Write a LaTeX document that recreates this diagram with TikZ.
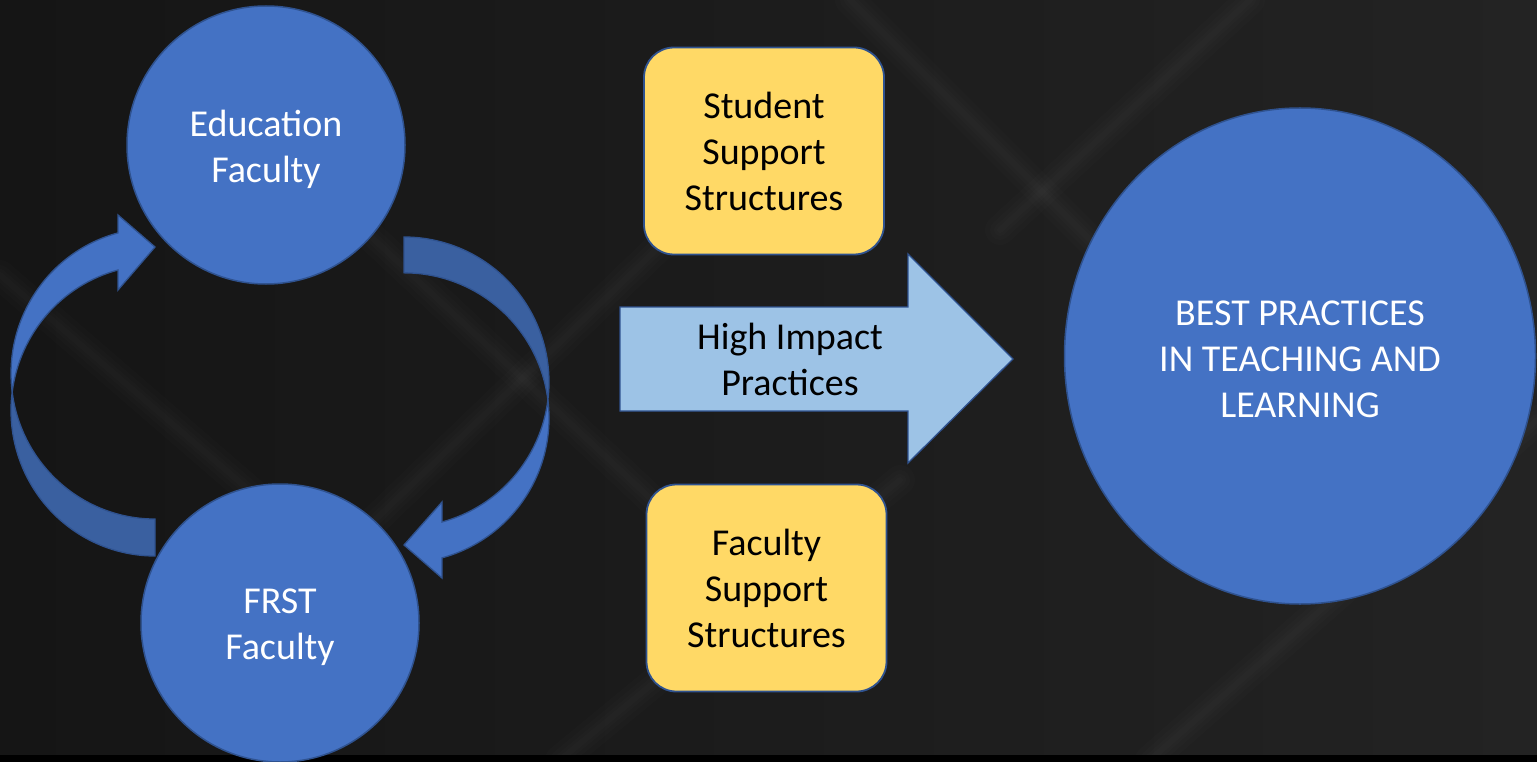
\documentclass[tikz,border=0pt]{standalone}
\usepackage{fontspec}
\setmainfont{Carlito}
\usetikzlibrary{shapes.geometric}
\definecolor{bgdark}{HTML}{151515}
\definecolor{bglight}{HTML}{232323}
\definecolor{accblue}{HTML}{4472C4}
\definecolor{edgeblue}{HTML}{2F528F}
\definecolor{darkband}{HTML}{3A60A0}
\definecolor{gold}{HTML}{FFD966}
\definecolor{lightblue}{HTML}{9DC3E6}
\begin{document}
\begin{tikzpicture}[x=1pt,y=-1pt,
  bigtext/.style={font=\fontsize{38}{46}\selectfont, align=center, inner sep=0pt},
  bluecirc/.style={circle, fill=accblue, draw=edgeblue, line width=1.5pt, minimum size=278pt, inner sep=0pt},
  whitetext/.style={bigtext, text=white},
  goldbox/.style={rectangle, rounded corners=30pt, fill=gold, draw=edgeblue, line width=1.8pt, text=black, minimum width=240pt, minimum height=207pt, bigtext},
  shapeline/.style={draw=edgeblue, line width=1.3pt, line join=miter},
  streak/.style={white, opacity=0.012, line cap=round}
]
\useasboundingbox (0,0) rectangle (1537,762);
% background
\shade[left color=bgdark, right color=bglight] (0,0) rectangle (1537,762);
\foreach \w in {6,12,20,30}{
  \draw[streak, line width=\w pt] (0,275) -- (330,560);
  \draw[streak, line width=\w pt] (300,170) -- (780,620);
  \draw[streak, line width=\w pt] (250,640) -- (760,150);
  \draw[streak, line width=\w pt] (850,0) -- (1150,300);
  \draw[streak, line width=\w pt] (1000,230) -- (1250,0);
  \draw[streak, line width=\w pt] (1150,760) -- (1537,420);
  \draw[streak, line width=\w pt] (560,760) -- (900,480);
}
\fill[black] (0,755) rectangle (1537,762);

% left curved arrow (FRST -> Education)
\path[fill=darkband, shapeline] (155,556)
  arc[start angle=90, end angle=187.3, x radius=144, y radius=145.5]
  arc[start angle=172.7, end angle=90, x radius=144, y radius=145.5] -- cycle;
\path[fill=accblue, shapeline] (12.2,392)
  arc[start angle=172.7, end angle=255.1, x radius=144, y radius=145.5]
  -- (118,215) -- (155,247) -- (118,290) -- (118,270)
  arc[start angle=255.1, end angle=187.3, x radius=144, y radius=145.5] -- cycle;

% right curved arrow (Education -> FRST)
\path[fill=darkband, shapeline] (404,237)
  arc[start angle=-90, end angle=7.1, x radius=145, y radius=145]
  arc[start angle=-7.1, end angle=-90, x radius=145, y radius=145] -- cycle;
\path[fill=accblue, shapeline] (547.9,400)
  arc[start angle=-7.1, end angle=74.8, x radius=145, y radius=145]
  -- (442,578) -- (404,545) -- (442,502) -- (442,522)
  arc[start angle=74.8, end angle=7.1, x radius=145, y radius=145] -- cycle;

% circles
\node[bluecirc] (edu) at (266,145) {};
\node[whitetext] (edutext) at ([yshift=-4.5pt]edu.center) {Education\\Faculty};
\node[bluecirc] (frst) at (280,623) {};
\node[whitetext] (frsttext) at ([yshift=-4pt]frst.center) {FRST\\Faculty};

% support boxes
\node[goldbox] (ssup) at (764,151) {Student\\Support\\Structures};
\node[goldbox] (fsup) at (766.5,588) {Faculty\\Support\\Structures};

% big arrow
\path[fill=lightblue, shapeline] (620,307) -- (908,307) -- (908,254) -- (1013,359)
  -- (908,463) -- (908,411) -- (620,411) -- cycle;
\node[bigtext, text=black] (hip) at (790,359) {High Impact\\Practices};

% result
\node[ellipse, fill=accblue, draw=edgeblue, line width=1.5pt, minimum width=471pt,
  minimum height=496pt, inner sep=0pt] (best) at (1300,356) {};
\node[whitetext] (besttext) at ([yshift=-3.5pt]best.center)
  {BEST PRACTICES\\IN TEACHING AND\\LEARNING};
\end{tikzpicture}
\end{document}
